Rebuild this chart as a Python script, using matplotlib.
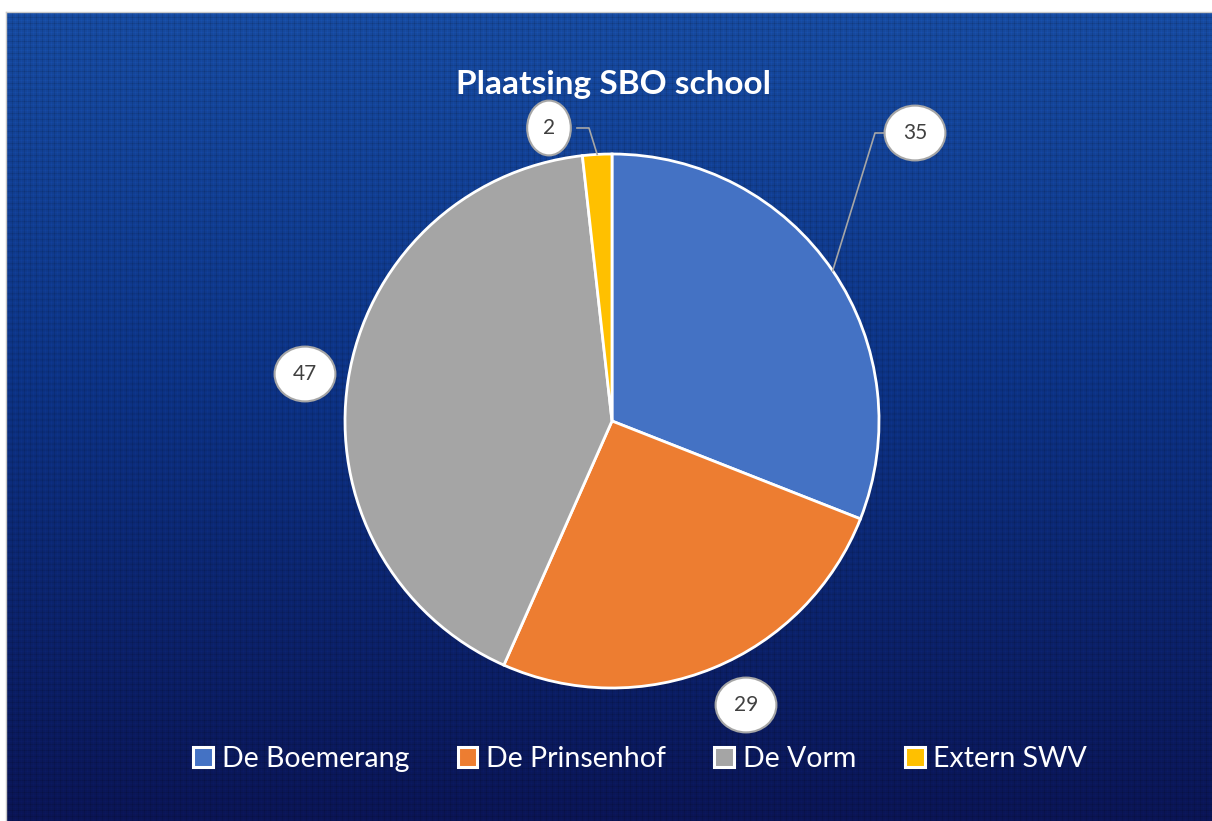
import numpy as np
import matplotlib
matplotlib.use('Agg')
import matplotlib.pyplot as plt
from matplotlib.patches import Patch

matplotlib.rcParams['font.family'] = ['Lato', 'DejaVu Sans']

# data
labels = ['De Boemerang', 'De Prinsenhof', 'De Vorm', 'Extern SWV']
values = [35, 29, 47, 2]
colors = ['#4472c4', '#ed7d31', '#a5a5a5', '#ffc000']
title = 'Plaatsing SBO school'

W, H = 1212, 821
fig = plt.figure(figsize=(W / 100, H / 100), dpi=100)
fig.patch.set_facecolor('white')

# background panel with gradient + grid texture
bg = fig.add_axes([6 / W, 0, 1 - 6 / W, (H - 12) / H])
bg.set_axis_off()
h, w = H - 12, W - 6
t = np.linspace(0, 1, h)[:, None]
top = np.array([0.09, 0.29, 0.62])
mid = np.array([0.05, 0.20, 0.52])
bot = np.array([0.04, 0.08, 0.33])
grad = np.where(t < 0.45, top + (mid - top) * (t / 0.45), mid + (bot - mid) * ((t - 0.45) / 0.55))
img = np.repeat(grad[:, None, :], w, axis=1).reshape(h, w, 3)
yy, xx = np.mgrid[0:h, 0:w]
tex = 1 - 0.10 * ((xx % 6) == 0) - 0.10 * ((yy % 6) == 0) + 0.05 * ((xx % 6) == 3) + 0.05 * ((yy % 6) == 3)
img = np.clip(img * tex[:, :, None], 0, 1)
bg.imshow(img, aspect='auto', extent=[0, 1, 0, 1])
bg.set_xlim(0, 1)
bg.set_ylim(0, 1)
fig.add_artist(plt.Line2D([6 / W, 1], [(H - 12) / H] * 2, color='#c8c8c8', lw=1))
fig.add_artist(plt.Line2D([6 / W] * 2, [0, (H - 12) / H], color='#c8c8c8', lw=1))

# main drawing axes in pixel coords (y up)
ax = fig.add_axes([0, 0, 1, 1])
ax.patch.set_alpha(0)

cx, cy, r = 612, H - 421, 267
wedges, _ = ax.pie(values, colors=colors, startangle=90, counterclock=False,
                   center=(cx, cy), radius=r, frame=True,
                   wedgeprops=dict(edgecolor='white', linewidth=2))
ax.set_xlim(0, W)
ax.set_ylim(0, H)
ax.set_axis_off()

ax.text(614, H - 84, title, ha='center', va='center', color='white',
        fontsize=24, fontweight='bold')

# data callouts
label_pos = [(915, 133), (746, 705), (305, 374), (549, 128)]
leader = [True, False, False, True]
cum = np.cumsum([0] + values)
total = sum(values)
for i, v in enumerate(values):
    lx, ly = label_pos[i]
    ly = H - ly
    if leader[i]:
        ang = np.deg2rad(90 - (cum[i] + v / 2) / total * 360)
        px, py = cx + r * np.cos(ang), cy + r * np.sin(ang)
        side = -1 if lx > px else 1
        ex = lx + side * 28
        kx = ex + side * 12
        ax.plot([px, kx, ex], [py, ly, ly], color='#a6a6a6', lw=1.2, zorder=4)
    ax.text(lx, ly, str(v), ha='center', va='center', fontsize=15, color='#404040',
            bbox=dict(boxstyle='ellipse,pad=0.45', fc='white', ec='#a6a6a6', lw=1.5), zorder=5)

handles = [Patch(facecolor=c, edgecolor='white', linewidth=2.2, label=l) for c, l in zip(colors, labels)]
leg = fig.legend(handles=handles, loc='center', bbox_to_anchor=(640 / W, 1 - 759 / H), ncol=4,
                 frameon=False, fontsize=20.5, handlelength=0.7, handleheight=0.7,
                 handletextpad=0.3, columnspacing=1.7, labelcolor='white')

fig.savefig('out.png', dpi=100, facecolor=fig.get_facecolor())
